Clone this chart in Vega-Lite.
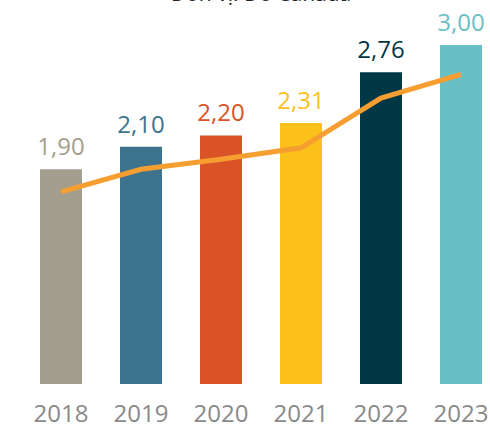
{
  "$schema": "https://vega.github.io/schema/vega-lite/v6.json",
  "autosize": "none",
  "width": 458,
  "height": 374,
  "padding": {"left": 32, "top": 10, "right": 0, "bottom": 46},
  "background": "white",
  "title": {"text": "Đơn vị: Đô Canada", "font": "Open Sans", "fontSize": 21, "fontWeight": "normal", "color": "#222222", "baseline": "alphabetic", "offset": -12, "anchor": "middle"},
  "config": {"view": {"stroke": null}},
  "data": {"values": [
    {"year": "2018", "value": 1.90, "label": "1,90", "trend": 1.70},
    {"year": "2019", "value": 2.10, "label": "2,10", "trend": 1.90},
    {"year": "2020", "value": 2.20, "label": "2,20", "trend": 1.99},
    {"year": "2021", "value": 2.31, "label": "2,31", "trend": 2.09},
    {"year": "2022", "value": 2.76, "label": "2,76", "trend": 2.53},
    {"year": "2023", "value": 3.00, "label": "3,00", "trend": 2.74}
  ]},
  "encoding": {
    "x": {"field": "year", "type": "nominal", "scale": {"paddingInner": 0.475, "paddingOuter": 0.1},
      "axis": {"title": null, "domain": false, "ticks": false, "labelAngle": 0, "labelFont": "Open Sans", "labelFontSize": 24, "labelColor": "#8a8a8a", "labelPadding": 18}}
  },
  "layer": [
    {"mark": {"type": "bar"},
     "encoding": {
       "y": {"field": "value", "type": "quantitative", "scale": {"domain": [0, 3.31], "nice": false}, "axis": null},
       "color": {"field": "year", "type": "nominal", "legend": null, "scale": {"domain": ["2018","2019","2020","2021","2022","2023"], "range": ["#a39e8d","#3d738d","#d95327","#fbc01a","#023745","#6abfc4"]}}
     }},
    {"mark": {"type": "text", "baseline": "alphabetic", "dy": -14, "font": "Open Sans", "fontSize": 24},
     "encoding": {
       "y": {"field": "value", "type": "quantitative"},
       "text": {"field": "label"},
       "color": {"field": "year", "type": "nominal", "legend": null}
     }},
    {"mark": {"type": "line", "color": "#f79e31", "strokeWidth": 5},
     "encoding": {
       "y": {"field": "trend", "type": "quantitative"}
     }}
  ]
}
